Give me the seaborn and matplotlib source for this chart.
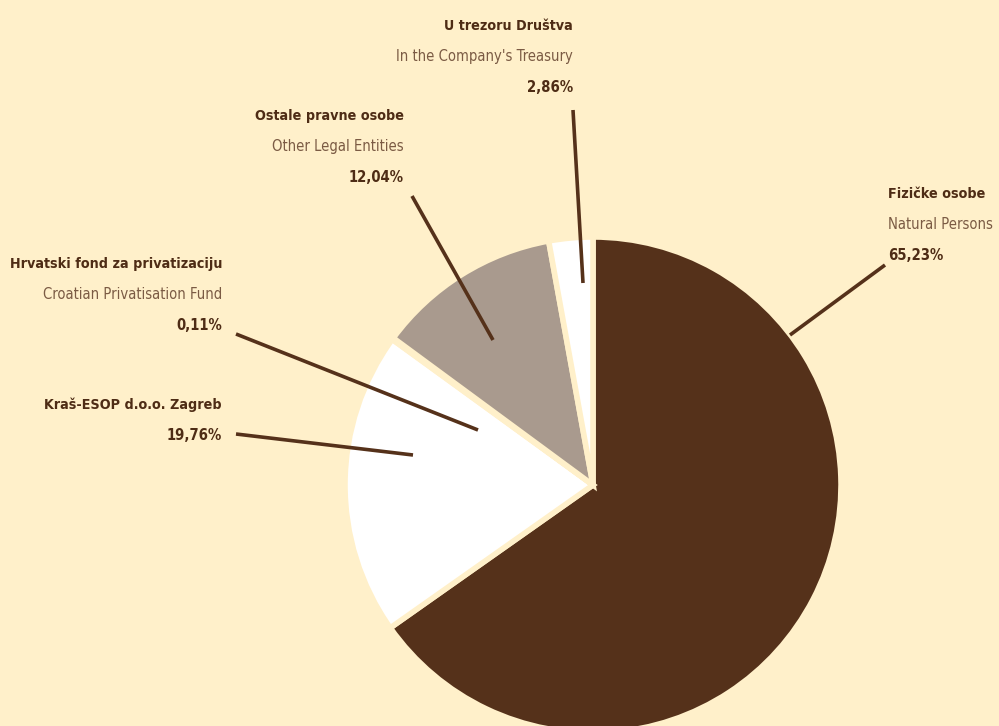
import numpy as np
import matplotlib
matplotlib.use("Agg")
import matplotlib.pyplot as plt
import seaborn as sns

# Ownership structure
labels_hr = ["Fizičke osobe", "Kraš-ESOP d.o.o. Zagreb", "Hrvatski fond za privatizaciju",
             "Ostale pravne osobe", "U trezoru Društva"]
labels_en = ["Natural Persons", "", "Croatian Privatisation Fund",
             "Other Legal Entities", "In the Company's Treasury"]
shares = [65.23, 19.76, 0.11, 12.04, 2.86]
pct_text = ["65,23%", "19,76%", "0,11%", "12,04%", "2,86%"]

BG = "#fff0ca"
DARK = "#55311a"
GREY = "#a99a8e"
WHITE = "#ffffff"
TXT = "#4e2c15"
TXT_LIGHT = "#7b5b44"
colors = [DARK, WHITE, DARK, GREY, WHITE]

sns.set_theme(style="white")
plt.rcParams["font.family"] = ["DejaVu Sans"]
plt.rcParams["font.stretch"] = "condensed"

W, H = 999, 726
fig = plt.figure(figsize=(W / 100, H / 100), dpi=100, facecolor=BG)
ax = fig.add_axes([0, 0, 1, 1])
ax.set_facecolor(BG)

cx, cy, R = 593, H - 485, 248
wedges, _ = ax.pie(shares, colors=colors, startangle=90, counterclock=False,
                   center=(cx, cy), radius=R, frame=True,
                   wedgeprops=dict(edgecolor=BG, linewidth=4))
ax.set_xlim(0, W)
ax.set_ylim(0, H)
ax.set_aspect("equal")
ax.axis("off")

# Label blocks: anchor x, first baseline y (px from top), alignment,
# leader line start and end (px from top-left)
layout = [
    (888, 198, "left", (885, 265), (790, 335)),
    (222, 409, "right", (236, 434), (413, 455)),
    (222, 268, "right", (236, 334), (478, 430)),
    (404, 120, "right", (412, 196), (493, 340)),
    (573, 30, "right", (573, 110), (583, 283)),
]
GAP = 31
for i, (tx, ty, ha, p0, p1) in enumerate(layout):
    lines = [(labels_hr[i], "bold", TXT, 10.3)]
    if labels_en[i]:
        lines.append((labels_en[i], "normal", TXT_LIGHT, 10.6))
    lines.append((pct_text[i], "bold", TXT, 10.6))
    for k, (s, w, c, fs) in enumerate(lines):
        ax.text(tx, H - (ty + k * GAP), s, ha=ha, va="baseline",
                fontsize=fs, fontweight=w, color=c, fontstretch="condensed")
    ax.plot([p0[0], p1[0]], [H - p0[1], H - p1[1]], color=DARK, lw=2.6,
            solid_capstyle="butt", zorder=5)

fig.savefig("out.png", dpi=100, facecolor=BG)
